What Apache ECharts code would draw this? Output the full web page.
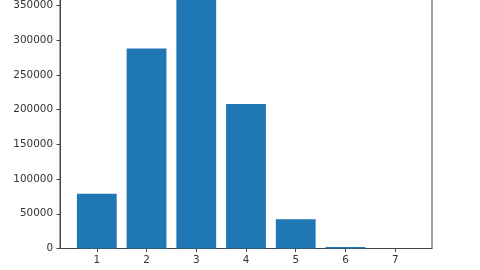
<!DOCTYPE html>
<html><head><meta charset="utf-8">
<script src="https://cdn.jsdelivr.net/npm/echarts@6/dist/echarts.min.js"></script>
<style>html,body{margin:0;padding:0;background:#fff;overflow:hidden;width:480px;height:270px}#c{position:absolute;left:0;top:-40px;width:480px;height:310px}</style>
</head><body><div id="c"></div>
<script>
const categories = [1, 2, 3, 4, 5, 6, 7];
const values = [79000, 288000, 370000, 208000, 42000, 2300, 100];
const yTicks = [0, 50000, 100000, 150000, 200000, 250000, 300000, 350000];

const chart = echarts.init(document.getElementById('c'), null, {renderer: 'canvas'});
const font = {fontFamily: 'DejaVu Sans', fontSize: 10.4, color: '#333'};
const ymax = Math.max(...values) * 1.05;
const offset = 40;
const axisY = 248.5;
chart.setOption({
  animation: false,
  grid: {left: 60, right: 48, bottom: 270 - axisY, top: offset + axisY - ymax * 243 / 350000, show: true, borderColor: '#444', borderWidth: 1, backgroundColor: 'transparent'},
  xAxis: {
    type: 'value', min: 0.26, max: 7.74,
    splitLine: {show: false},
    axisLine: {show: true, lineStyle: {color: '#444', width: 1}},
    axisTick: {show: true, length: 3.5, lineStyle: {color: '#444'}, customValues: categories},
    axisLabel: Object.assign({margin: 7, customValues: categories, formatter: v => String(v)}, font)
  },
  yAxis: {
    type: 'value', min: 0, max: ymax,
    splitLine: {show: false},
    axisLine: {show: true, lineStyle: {color: '#444', width: 1}},
    axisTick: {show: true, length: 3.5, lineStyle: {color: '#444'}, customValues: yTicks},
    axisLabel: Object.assign({margin: 7, customValues: yTicks, formatter: v => String(v)}, font)
  },
  series: [{
    type: 'bar',
    data: categories.map((c, i) => [c, values[i]]),
    barWidth: 39.8,
    itemStyle: {color: '#1f77b4'}
  }]
});
</script></body></html>
